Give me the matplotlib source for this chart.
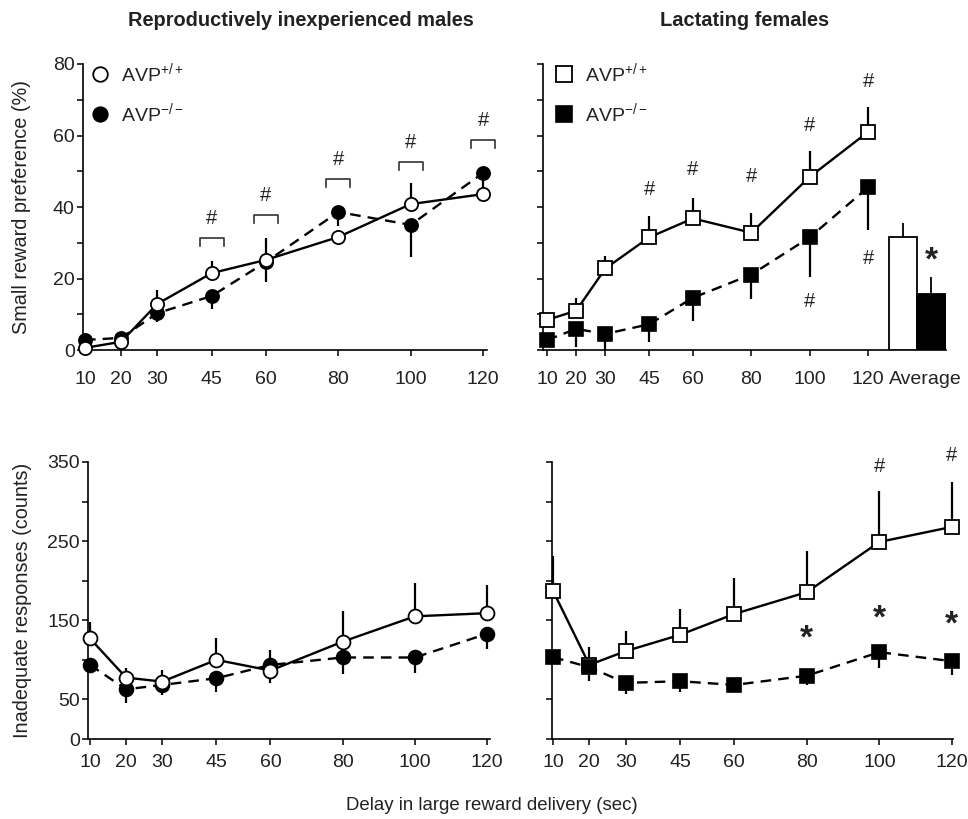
import matplotlib
matplotlib.use('Agg')
import matplotlib.pyplot as plt
from matplotlib.lines import Line2D

plt.rcParams['font.family'] = ['Liberation Sans', 'DejaVu Sans']
plt.rcParams['mathtext.fontset'] = 'custom'
plt.rcParams['mathtext.rm'] = 'Liberation Sans'
plt.rcParams['mathtext.it'] = 'Liberation Sans'
plt.rcParams['mathtext.bf'] = 'Liberation Sans:bold'

# Delay values (sec)
delays = [10, 20, 30, 45, 60, 80, 100, 120]

# Small reward preference (%), males
m_pref_wt = [0.6, 2.3, 12.9, 21.5, 25.2, 31.6, 40.8, 43.6]
m_pref_wt_err = [0, 0, 4.0, 3.4, 6.0, 2.0, 6.0, 2.0]
m_pref_ko = [2.8, 3.4, 10.3, 15.1, 24.6, 38.6, 35.0, 49.5]
m_pref_ko_err = [0, 0, 2.5, 3.6, 5.6, 4.0, 9.0, 5.5]
m_bracket_x = [45, 60, 80, 100, 120]
m_bracket_y = [31.3, 37.8, 47.8, 52.6, 58.7]

# Small reward preference (%), lactating females
f_pref_wt = [8.4, 11.0, 22.8, 31.5, 36.8, 32.8, 48.4, 61.0]
f_pref_wt_err = [0, 3.6, 3.6, 6.0, 5.6, 5.4, 7.3, 7.0]
f_pref_ko = [2.8, 5.9, 4.5, 7.2, 14.6, 21.1, 31.5, 45.5]
f_pref_ko_err = [0, 5.0, 4.5, 5.0, 6.5, 6.8, 11.0, 12.0]
avg_vals = [31.5, 15.7]
avg_err = [4.0, 4.7]
f_hash_up_x = [45, 60, 80, 100, 120]
f_hash_up_y = [45, 50.4, 48.5, 62.8, 75]
f_hash_dn_x = [100, 120]
f_hash_dn_y = [13.5, 25.5]

# Inadequate responses (counts), males
m_inad_wt = [127, 77.6, 72.5, 100, 86.5, 123, 155, 159]
m_inad_wt_err = [21, 12, 15, 28, 26, 39, 42, 36]
m_inad_ko = [93.6, 62.8, 68.3, 76.8, 93.6, 103, 103, 133]
m_inad_ko_err = [0, 17, 12.6, 17, 23, 21, 19, 19.5]

# Inadequate responses (counts), lactating females
f_inad_wt = [187, 93.7, 111, 131.6, 158, 185.6, 249, 268]
f_inad_wt_err = [44, 23, 26, 33, 46, 52, 64, 57]
f_inad_ko = [103.4, 90.7, 70.9, 73, 68.3, 80, 109.7, 98.3]
f_inad_ko_err = [0, 18, 14, 13, 5, 12, 20, 18]
f_star_x = [80, 100, 120]
f_star_y = [126.5, 151, 143.5]
f_hash_x = [100, 120]
f_hash_y = [344, 358.6]

W, H = 968, 819
fig = plt.figure(figsize=(W / 100, H / 100), dpi=100)


def box(l, r, t, b):
    return [l / W, 1 - b / H, (r - l) / W, (b - t) / H]


ax1 = fig.add_axes(box(83, 487, 64, 350))
ax2 = fig.add_axes(box(543, 946, 64, 350))
ax3 = fig.add_axes(box(88, 490, 462, 739))
ax4 = fig.add_axes(box(552, 953, 462, 739))

tcol = '#222222'
fs = 14
for ax in [ax1, ax2, ax3, ax4]:
    for s in ['top', 'right']:
        ax.spines[s].set_visible(False)
    for s in ['left', 'bottom']:
        ax.spines[s].set_linewidth(1.2)
    ax.tick_params(direction='out', length=4, width=1.1, labelsize=fs,
                   colors='k', labelcolor=tcol)
    ax.tick_params(axis='y', pad=2)


def draw(ax, x, wt, wt_err, ko, ko_err, marker, ms, ko_on_top=False):
    zw, zk = (4, 5) if ko_on_top else (5, 4)
    ax.errorbar(x, wt, yerr=[[0] * len(wt), wt_err], fmt='none', ecolor='k',
                elinewidth=1.6, capsize=0, zorder=zw - 0.5, clip_on=False)
    ax.errorbar(x, ko, yerr=[ko_err, [0] * len(ko)], fmt='none', ecolor='k',
                elinewidth=1.6, capsize=0, zorder=zk - 0.5, clip_on=False)
    ax.plot(x, ko, marker=marker, ls=(0, (4.5, 3)), color='k', lw=1.7,
            mfc='k', mec='k', ms=ms, mew=1.2, zorder=zk, clip_on=False)
    ax.plot(x, wt, marker=marker, ls='-', color='k', lw=1.7,
            mfc='white', mec='k', ms=ms, mew=1.3, zorder=zw, clip_on=False)


def legend(ax, marker, ms, x0):
    h = [Line2D([], [], ls='none', marker=marker, mfc='white', mec='k', ms=ms, mew=1.3),
         Line2D([], [], ls='none', marker=marker, mfc='k', mec='k', ms=ms, mew=1.2)]
    ax.legend(h, ['AVP$^{+/+}$', 'AVP$^{-/-}$'], loc='upper left',
              bbox_to_anchor=(x0, 1.065), frameon=False, fontsize=fs,
              handlelength=1.0, handletextpad=0.55, labelspacing=0.85,
              borderpad=0.3, labelcolor=tcol)


def hash_mark(ax, x, y):
    ax.text(x, y, '#', ha='center', va='center', fontsize=14.5, color=tcol)


def star_mark(ax, x, y):
    ax.text(x, y, '*', ha='center', va='center', fontsize=24,
            fontweight='bold', color=tcol)


# Top left
draw(ax1, delays, m_pref_wt, m_pref_wt_err, m_pref_ko, m_pref_ko_err, 'o', 9.5)
for bx, by in zip(m_bracket_x, m_bracket_y):
    ax1.plot([bx - 3.3, bx - 3.3, bx + 3.3, bx + 3.3], [by - 2.2, by, by, by - 2.2],
             color='#333333', lw=1.2, clip_on=False)
    hash_mark(ax1, bx, by + 5.4)
ax1.set_xlim(9.45, 121.1)
ax1.set_ylim(0, 80)
ax1.set_yticks([0, 20, 40, 60, 80])
ax1.set_yticks([10, 30, 50, 70], minor=True)
ax1.tick_params(axis='y', which='minor', length=4, width=1.1)
ax1.set_xticks(delays)
ax1.tick_params(axis='x', pad=11)
ax1.set_ylabel('Small reward preference (%)', fontsize=14.3, color=tcol)
ax1.yaxis.set_label_coords(-0.128, 0.5)
legend(ax1, 'o', 10.5, -0.02)

# Top right
draw(ax2, delays, f_pref_wt, f_pref_wt_err, f_pref_ko, f_pref_ko_err, 's', 10.5)
bar_x = [132.0, 141.7]
ax2.bar(bar_x, avg_vals, width=9.7, color=['white', 'k'], edgecolor='k',
        linewidth=1.3, zorder=3)
ax2.errorbar(bar_x, avg_vals, yerr=[[0, 0], avg_err], fmt='none', ecolor='k',
             elinewidth=1.3, capsize=0, zorder=2)
star_mark(ax2, bar_x[1], 25.0)
for hx, hy in zip(f_hash_up_x, f_hash_up_y):
    hash_mark(ax2, hx, hy)
for hx, hy in zip(f_hash_dn_x, f_hash_dn_y):
    hash_mark(ax2, hx, hy)
ax2.set_xlim(8.63, 146.7)
ax2.set_ylim(0, 80)
ax2.set_yticks(range(0, 81, 10))
ax2.set_yticklabels([])
ax2.set_xticks(delays + [139.5])
ax2.set_xticklabels([str(d) for d in delays] + ['Average'])
ax2.get_xticklines()[-2].set_visible(False)
ax2.tick_params(axis='x', pad=11)
legend(ax2, 's', 11, -0.01)

# Bottom left
draw(ax3, delays, m_inad_wt, m_inad_wt_err, m_inad_ko, m_inad_ko_err, 'o', 10)
ax3.set_xlim(9.45, 120.8)
ax3.set_ylim(0, 350)
ax3.set_yticks(range(0, 351, 50))
ax3.set_yticklabels(['0', '50', '', '150', '', '250', '', '350'])
ax3.set_xticks(delays)
ax3.tick_params(axis='x', pad=7)
ax3.set_ylabel('Inadequate responses (counts)', fontsize=14.3, color=tcol)
ax3.yaxis.set_label_coords(-0.14, 0.5)

# Bottom right
draw(ax4, delays, f_inad_wt, f_inad_wt_err, f_inad_ko, f_inad_ko_err, 's', 10.5,
     ko_on_top=True)
for sx, sy in zip(f_star_x, f_star_y):
    star_mark(ax4, sx, sy)
for hx, hy in zip(f_hash_x, f_hash_y):
    hash_mark(ax4, hx, hy)
ax4.set_xlim(9.7, 120.3)
ax4.set_ylim(0, 350)
ax4.set_yticks(range(0, 351, 50))
ax4.set_yticklabels([])
ax4.set_xticks(delays)
ax4.tick_params(axis='x', pad=7)

fig.text(301 / W, 1 - 21 / H, 'Reproductively inexperienced males', ha='center',
         va='center', fontsize=14.4, fontweight='bold', color=tcol)
fig.text(745 / W, 1 - 21 / H, 'Lactating females', ha='center', va='center',
         fontsize=14.4, fontweight='bold', color=tcol)
fig.text(492 / W, 1 - 805 / H, 'Delay in large reward delivery (sec)', ha='center',
         va='center', fontsize=13.4, color=tcol)

fig.savefig('out.png', dpi=100)
